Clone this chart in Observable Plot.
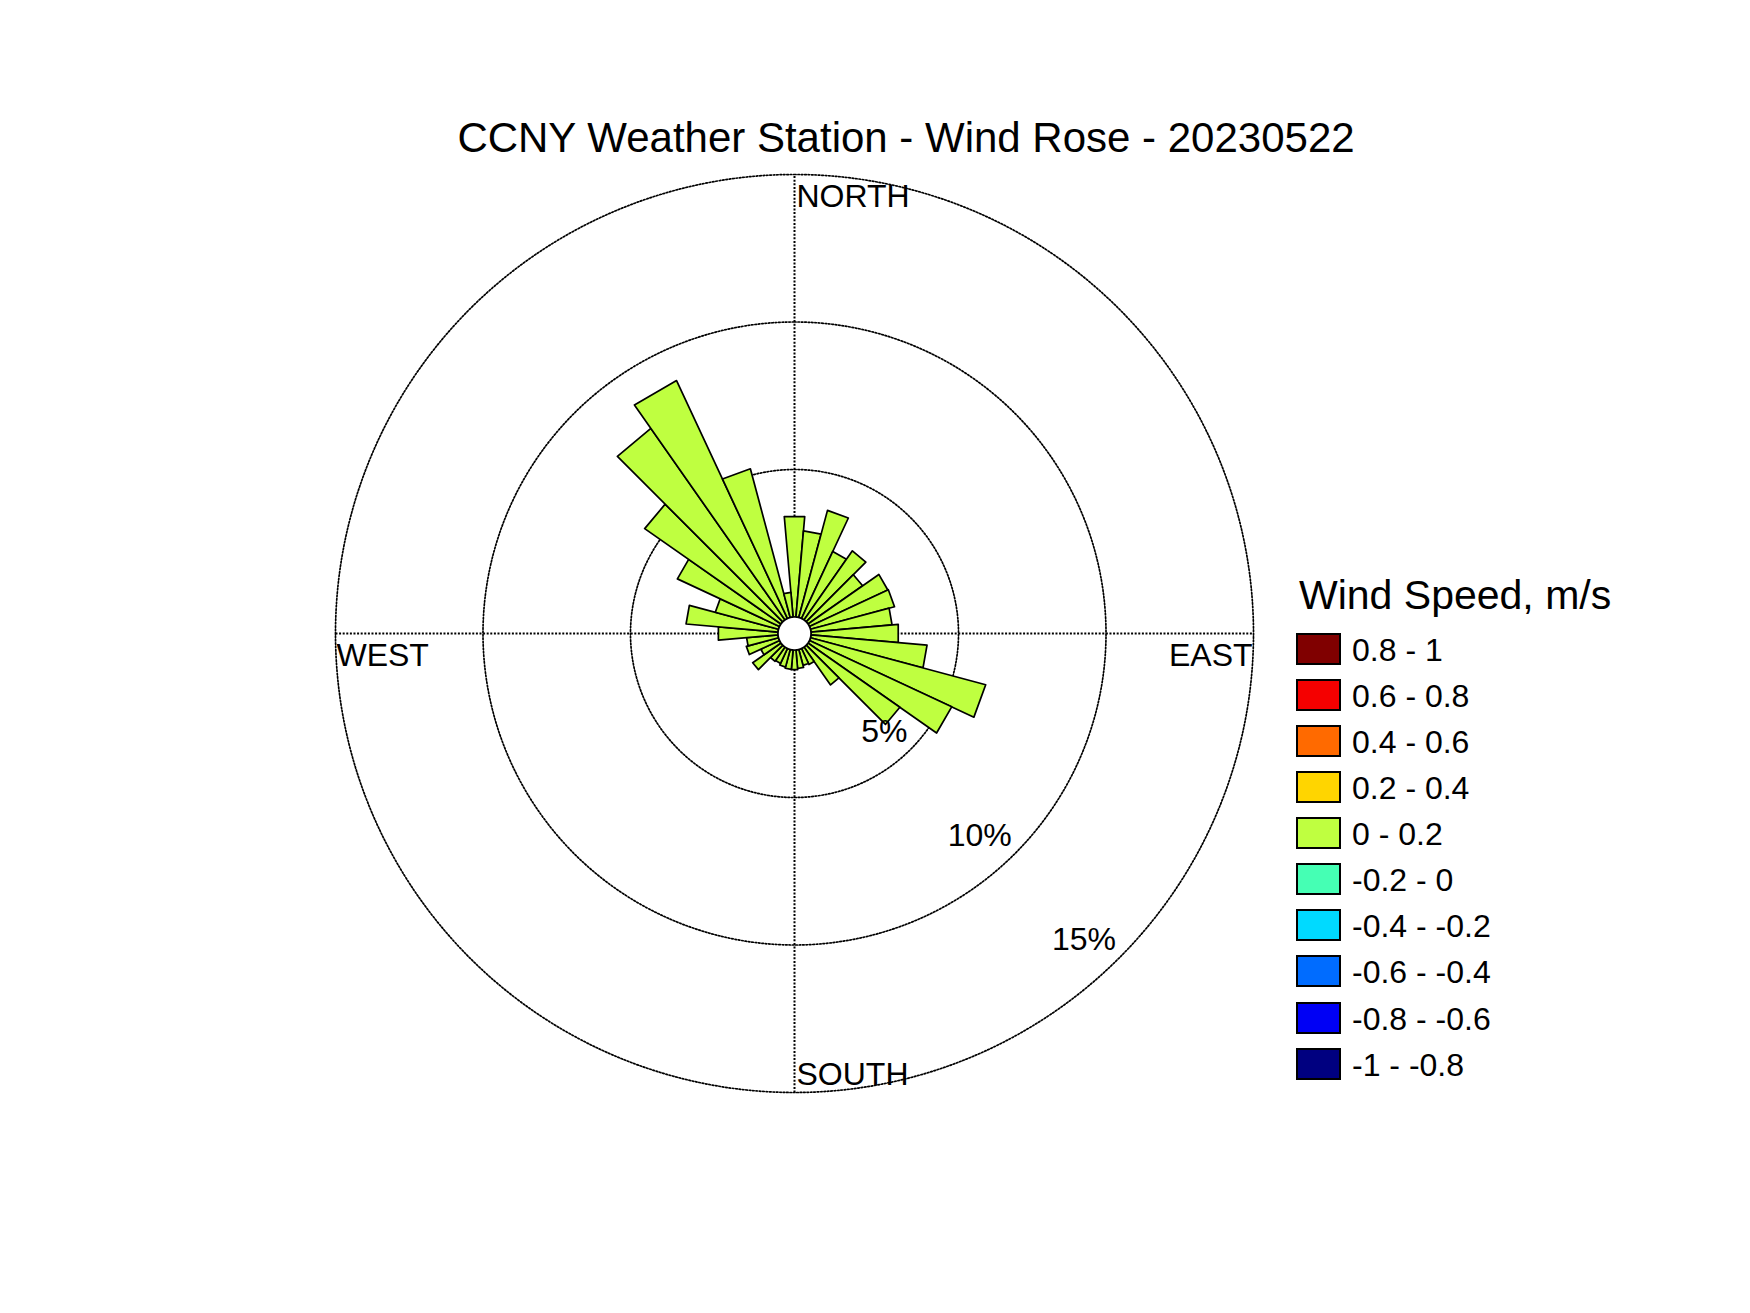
<!DOCTYPE html>
<html>
<head>
<meta charset="utf-8">
<script src="https://cdn.jsdelivr.net/npm/d3@7"></script>
<script src="https://cdn.jsdelivr.net/npm/@observablehq/plot@0.6"></script>
<style>
  html, body { margin: 0; padding: 0; background: #fff; }
  #page { position: relative; width: 1750px; height: 1313px; overflow: hidden;
          font-family: "Liberation Sans", Arial, Helvetica, sans-serif; color: #000; }
  #title { position: absolute; left: 406px; width: 1000px; top: 117px; text-align: center;
           font-size: 42px; line-height: 42px; white-space: nowrap; }
  #chart { position: absolute; left: 294px; top: 133px; }
  #legend-title { position: absolute; left: 1299px; top: 575px; font-size: 41px; line-height: 41px; white-space: nowrap; }
  .row { position: absolute; left: 1296px; height: 32px; }
  .sw { position: absolute; left: 0; top: 0; width: 41px; height: 28px; border: 2px solid #000; }
  .lab { position: absolute; left: 56px; top: 1px; font-size: 32px; line-height: 32px; white-space: nowrap; }
</style>
</head>
<body>
<div id="page">
  <div id="title"></div>
  <div id="chart"></div>
  <div id="legend-title"></div>
  <div id="legend"></div>
</div>
<script>
// ---------------- data ----------------
const chartTitle = "CCNY Weather Station - Wind Rose - 20230522";
const legendTitle = "Wind Speed, m/s";
const directions = [0, 10, 20, 30, 40, 50, 60, 70, 80, 90, 100, 110, 120, 130, 140, 150, 160, 170,
                    180, 190, 200, 210, 220, 230, 240, 250, 260, 270, 280, 290, 300, 310, 320, 330, 340, 350];
const frequency = [3.42, 2.93, 3.76, 2.51, 2.86, 2.26, 2.93, 2.95, 2.76, 2.97, 3.95, 6.15, 5.32, 3.80, 1.57, 0.60, 0.56, 0.63,
                   0.67, 0.66, 0.62, 0.56, 0.59, 1.17, 0.70, 1.13, 1.07, 2.03, 3.13, 2.22, 3.82, 5.64, 7.93, 8.90, 5.22, 0.84];
const speedClass = directions.map(() => "0 - 0.2");
const speedLabels = ["0.8 - 1", "0.6 - 0.8", "0.4 - 0.6", "0.2 - 0.4", "0 - 0.2",
                     "-0.2 - 0", "-0.4 - -0.2", "-0.6 - -0.4", "-0.8 - -0.6", "-1 - -0.8"];
const speedColors = ["#800000", "#F50000", "#FF6A00", "#FFD500", "#BFFF40",
                     "#45FFB4", "#00DAFF", "#006CFF", "#0000F5", "#000080"];
const ringValues = [5, 10, 15];
const ringLabels = ["5%", "10%", "15%"];
const compassLabels = ["NORTH", "EAST", "SOUTH", "WEST"];

// ---------------- geometry helpers ----------------
const hole = 0.56;            // radius of the empty centre, in percent units
const rMax = hole + 15;
const halfWidth = 5;          // half of each sector's angular width, degrees
const labelAngle = 135;
const rad = d => d * Math.PI / 180;
const polar = (r, a) => ({x: r * Math.sin(rad(a)), y: r * Math.cos(rad(a))});

const bars = directions.flatMap((dir, i) => {
  const r1 = hole + frequency[i];
  const corners = [[hole, dir - halfWidth], [r1, dir - halfWidth], [r1, dir + halfWidth], [hole, dir + halfWidth], [hole, dir - halfWidth]];
  return corners.map(([r, a]) => ({dir, cls: speedClass[i], ...polar(r, a)}));
});
const circle = (r, key) => d3.range(0, 361, 1).map(a => ({key, ...polar(r, a)}));
const rings = ringValues.flatMap(v => circle(hole + v, v));
const holeCircle = circle(hole, "hole");
const crossLines = [
  {x1: -rMax, y1: 0, x2: rMax, y2: 0},
  {x1: 0, y1: -rMax, x2: 0, y2: rMax}
];

const size = 1000;
const D = (size / 2) / 29.5;
const fs = 32;

const chart = Plot.plot({
  width: size, height: size, margin: 0,
  x: {domain: [-D, D], axis: null},
  y: {domain: [-D, D], axis: null},
  color: {type: "ordinal", domain: speedLabels, range: speedColors},
  style: {fontFamily: "'Liberation Sans', Arial, Helvetica, sans-serif", background: "transparent", overflow: "visible"},
  marks: [
    Plot.line(rings, {x: "x", y: "y", z: "key", stroke: "#000", strokeWidth: 1.7, strokeDasharray: "1.6,1.8"}),
    Plot.link(crossLines, {x1: "x1", y1: "y1", x2: "x2", y2: "y2", stroke: "#000", strokeWidth: 2, strokeDasharray: "2,1.6"}),
    Plot.line(bars, {x: "x", y: "y", z: "dir", fill: "cls", stroke: "#000", strokeWidth: 1.7, strokeMiterlimit: 10}),
    Plot.line(holeCircle, {x: "x", y: "y", fill: "#fff", stroke: "#000", strokeWidth: 1.7}),
    Plot.text([compassLabels[0]], {x: () => 0, y: () => rMax, text: d => d, textAnchor: "start", dx: 2, dy: 22, fontSize: fs, fill: "#000"}),
    Plot.text([compassLabels[1]], {x: () => rMax, y: () => 0, text: d => d, textAnchor: "end", dx: -1, dy: 22, fontSize: fs, fill: "#000"}),
    Plot.text([compassLabels[2]], {x: () => 0, y: () => -rMax, text: d => d, textAnchor: "start", dx: 2, dy: -18, fontSize: fs, fill: "#000"}),
    Plot.text([compassLabels[3]], {x: () => -rMax, y: () => 0, text: d => d, textAnchor: "start", dx: 1, dy: 22, fontSize: fs, fill: "#000"}),
    Plot.text(ringValues, {
      x: v => polar(hole + v, labelAngle).x,
      y: v => polar(hole + v, labelAngle).y,
      text: (v, i) => ringLabels[i],
      textAnchor: "end", dx: -3, dy: -18, fontSize: fs, fill: "#000"
    })
  ]
});
document.getElementById("chart").appendChild(chart);
document.getElementById("title").textContent = chartTitle;
document.getElementById("legend-title").textContent = legendTitle;

const legend = document.getElementById("legend");
speedLabels.forEach((lab, i) => {
  const row = document.createElement("div");
  row.className = "row";
  row.style.top = (633 + i * 46.07) + "px";
  const sw = document.createElement("div");
  sw.className = "sw";
  sw.style.background = speedColors[i];
  const t = document.createElement("div");
  t.className = "lab";
  t.textContent = lab;
  row.appendChild(sw);
  row.appendChild(t);
  legend.appendChild(row);
});
</script>
</body>
</html>
